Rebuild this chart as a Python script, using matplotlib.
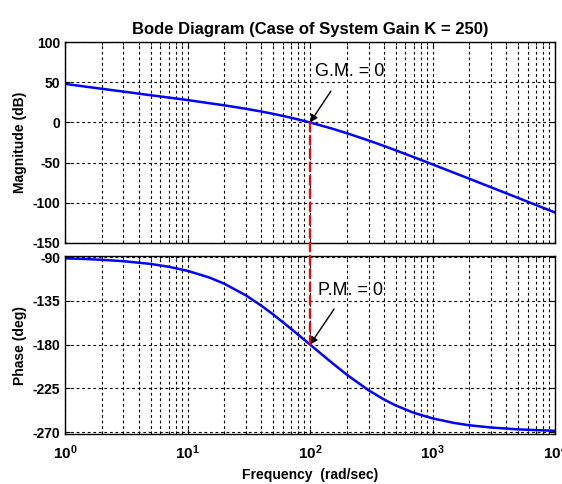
import matplotlib
matplotlib.use("Agg")
from matplotlib import pyplot as plt
from matplotlib.patches import ConnectionPatch

# values
freq = [1, 1.5, 2, 3, 5, 7, 10, 15, 20, 30, 40, 50, 70, 100, 150, 200, 300, 400,
        500, 700, 1000, 1500, 2000, 3000, 5000, 10000]
mag_db = [48.0, 44.4, 41.9, 38.4, 33.9, 31.0, 27.9, 24.0, 21.3, 17.0, 13.6, 10.7,
          5.9, 0.0, -7.5, -13.4, -22.4, -29.2, -34.7, -43.1, -52.2, -62.7, -70.1,
          -80.7, -94.0, -112.1]
phase_deg = [-91.4, -92.1, -92.9, -94.3, -97.1, -100.0, -104.2, -111.0, -117.5,
             -129.5, -140.0, -149.0, -163.8, -180.0, -198.4, -211.0, -226.9,
             -236.3, -242.5, -250.0, -255.8, -260.5, -262.9, -265.2, -267.1, -268.6]
mag_ticks = [100, 50, 0, -50, -100, -150]
phase_ticks = [-90, -135, -180, -225, -270]
freq_ticks = [1, 10, 100, 1000, 10000]
freq_labels = [r"$\mathbf{10^{%d}}$" % i for i in range(5)]
crossover = 100

plt.rcParams["font.family"] = ["Liberation Sans", "DejaVu Sans"]
plt.rcParams["mathtext.fontset"] = "custom"
plt.rcParams["mathtext.bf"] = "Liberation Sans:bold"
plt.rcParams["mathtext.rm"] = "Liberation Sans"

fig = plt.figure(figsize=(5.62, 4.84), dpi=100)
ax1 = fig.add_axes([0.1157, 0.498, 0.872, 0.415])
ax2 = fig.add_axes([0.1157, 0.103, 0.872, 0.368])

grid_kw = dict(color="black", linestyle=(0, (2.5, 2.5)), linewidth=0.8)

ax1.semilogx(freq, mag_db, color="blue", linewidth=1.8)
ax1.set_xlim(1, 10000)
ax1.set_ylim(-150, 100)
ax1.set_yticks(mag_ticks)
ax1.set_yticklabels([str(t) for t in mag_ticks], fontweight="bold", fontsize=10)
ax1.set_xticklabels([])
ax1.set_ylabel("Magnitude (dB)", fontweight="bold", fontsize=10)
ax1.set_title("Bode Diagram (Case of System Gain K = 250)", fontweight="bold", fontsize=12)
ax1.grid(True, which="major", **grid_kw)
ax1.grid(True, which="minor", axis="x", **grid_kw)
ax1.tick_params(which="both", direction="in", top=True, right=True)

ax2.semilogx(freq, phase_deg, color="blue", linewidth=1.8)
ax2.set_xlim(1, 10000)
ax2.set_ylim(-272, -89)
ax2.set_yticks(phase_ticks)
ax2.set_yticklabels([str(t) for t in phase_ticks], fontweight="bold", fontsize=10)
ax2.set_xticks(freq_ticks)
ax2.set_xticklabels(freq_labels, fontsize=11)
ax2.set_ylabel("Phase (deg)", fontweight="bold", fontsize=10)
ax2.set_xlabel("Frequency  (rad/sec)", fontweight="bold", fontsize=10)
ax2.grid(True, which="major", **grid_kw)
ax2.grid(True, which="minor", axis="x", **grid_kw)
ax2.tick_params(which="both", direction="in", top=True, right=True)
ax2.tick_params(axis="x", pad=7)

for ax in (ax1, ax2):
    for s in ax.spines.values():
        s.set_linewidth(1.0)

# red dashed line linking the crossover in both plots
con = ConnectionPatch(xyA=(crossover, 0), coordsA=ax1.transData,
                      xyB=(crossover, -180), coordsB=ax2.transData,
                      color="red", linestyle=(0, (4, 2)), linewidth=1.6, zorder=5)
fig.add_artist(con)

arrow_kw = dict(arrowstyle="-|>", color="black", lw=1.0, mutation_scale=11,
                shrinkA=0, shrinkB=0)

ax1.text(110, 64, "G.M. = 0", fontsize=13, ha="left", va="center")
ax1.annotate("", xy=(crossover, 0), xytext=(148, 39), arrowprops=arrow_kw)

ax2.text(116, -124, "P.M. = 0", fontsize=13, ha="left", va="center")
ax2.annotate("", xy=(crossover, -180), xytext=(157, -143.5), arrowprops=arrow_kw)

plt.savefig("out.png", dpi=100)
